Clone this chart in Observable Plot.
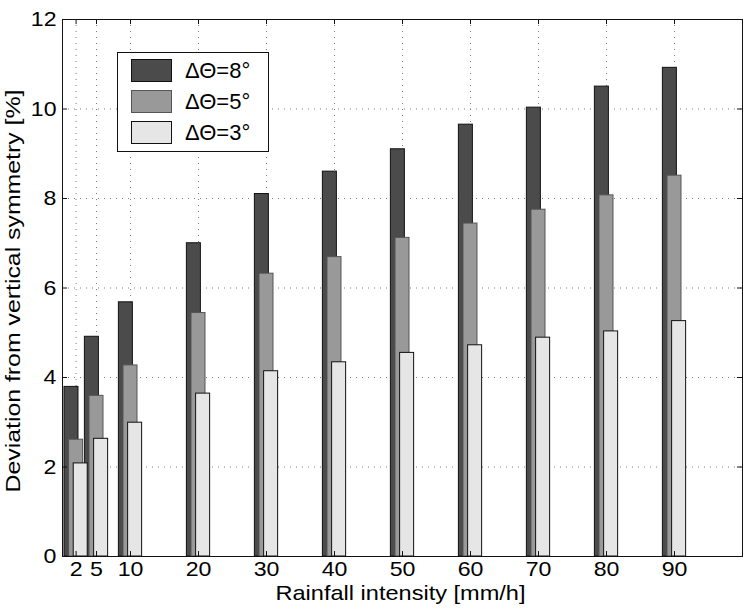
<!DOCTYPE html>
<html>
<head>
<meta charset="utf-8">
<script src="https://cdn.jsdelivr.net/npm/d3@7"></script>
<script src="https://cdn.jsdelivr.net/npm/@observablehq/plot@0.6"></script>
<style>
  html, body { margin: 0; padding: 0; background: #fff; }
  #wrap { position: relative; width: 747px; height: 614px; }
  #legend { position: absolute; left: 117px; top: 52px; width: 150px; height: 98px;
    border: 1px solid #111; background: #fff; font-family: "Liberation Sans", Arial, sans-serif; }
  .sw { position: absolute; left: 13px; width: 41px; height: 23px; border: 1px solid #222; box-sizing: border-box; }
  .lt { position: absolute; left: 67px; font-size: 22px; line-height: 22px; color: #000; white-space: nowrap; }
</style>
</head>
<body>
<div id="wrap"></div>
<script>
// ---- data ----
const rainfall = [2, 5, 10, 20, 30, 40, 50, 60, 70, 80, 90];
const dev8 = [3.79, 4.91, 5.68, 7.0, 8.1, 8.6, 9.1, 9.65, 10.03, 10.5, 10.92];
const dev5 = [2.61, 3.59, 4.27, 5.44, 6.32, 6.69, 7.12, 7.44, 7.75, 8.07, 8.51];
const dev3 = [2.08, 2.63, 2.99, 3.64, 4.14, 4.34, 4.55, 4.72, 4.89, 5.03, 5.26];
const seriesLabels = ["ΔΘ=8°", "ΔΘ=5°", "ΔΘ=3°"];
const xTicks = [2, 5, 10, 20, 30, 40, 50, 60, 70, 80, 90];
const yTicks = [0, 2, 4, 6, 8, 10, 12];
const xLabel = "Rainfall intensity [mm/h]";
const yLabel = "Deviation from vertical symmetry [%]";

// ---- styling ----
const fills = ["#4b4b4b", "#999999", "#e6e6e6"];
const strokes = ["#111", "#555", "#111"];
const W = 747, H = 614, mL = 62, mR = 5, mT = 19, mB = 58;
const fw = W - mL - mR, fh = H - mT - mB;
const barW = 2.06, off = 0.68;   // in x units
const font = "'Liberation Sans', Arial, Helvetica, sans-serif";

const allSeries = [dev8, dev5, dev3];
const rows = allSeries.map((vals, s) => rainfall.map((r, i) => ({rain: r, value: vals[i], s})));

const barMarks = rows.map((data, s) => Plot.rectY(data, {
  x1: d => d.rain + (d.s - 1) * off - barW / 2,
  x2: d => d.rain + (d.s - 1) * off + barW / 2,
  y1: 0,
  y2: "value",
  fill: fills[s],
  stroke: strokes[s],
  strokeWidth: 1
}));

const gridStyle = {stroke: "#444", strokeOpacity: 0.7, strokeDasharray: "1,5", strokeWidth: 1};
const tickStyle = {stroke: "#111", strokeWidth: 1};

const chart = Plot.plot({
  width: W, height: H,
  marginLeft: mL, marginRight: mR, marginTop: mT, marginBottom: mB,
  x: {domain: [0, 100], axis: null},
  y: {domain: [0, 12], axis: null},
  style: {fontFamily: font, background: "#fff", color: "#000"},
  marks: [
    Plot.ruleX(xTicks, {x: d => d, ...gridStyle}),
    Plot.ruleY(yTicks.slice(1, -1), {y: d => d, ...gridStyle}),
    ...barMarks,
    // inward ticks on all four sides
    Plot.ruleX(xTicks, {x: d => d, insetTop: fh - 5, ...tickStyle}),
    Plot.ruleX(xTicks, {x: d => d, insetBottom: fh - 5, ...tickStyle}),
    Plot.ruleY(yTicks, {y: d => d, insetRight: fw - 5, ...tickStyle}),
    Plot.ruleY(yTicks, {y: d => d, insetLeft: fw - 5, ...tickStyle}),
    Plot.frame({stroke: "#111", strokeWidth: 1}),
    Plot.text(xTicks, {x: d => d, frameAnchor: "bottom", dy: 19, text: d => String(d), fontSize: 21, fill: "#000"}),
    Plot.text(yTicks, {y: d => d, frameAnchor: "left", dx: -6, textAnchor: "end", text: d => String(d), fontSize: 21, fill: "#000"}),
    Plot.text([xLabel], {frameAnchor: "bottom", dx: -2, dy: 43, text: d => d, fontSize: 21, fill: "#000"}),
    Plot.text([yLabel], {frameAnchor: "left", dx: -49, dy: 3, rotate: -90, text: d => d, fontSize: 21, fill: "#000"})
  ]
});

const wrap = document.getElementById("wrap");
wrap.appendChild(chart);

// widen glyphs slightly to match the reference's wider lettering
chart.querySelectorAll("text").forEach(t => {
  const s = t.textContent;
  const len = t.getComputedTextLength();
  if (s === yLabel) {
    const L = 403;
    t.setAttribute("text-anchor", "start");
    t.setAttribute("x", (-L / 2).toFixed(1));
    t.setAttribute("textLength", L);
    t.setAttribute("lengthAdjust", "spacingAndGlyphs");
    return;
  }
  const target = s === xLabel ? 250 : len * 1.1;
  t.setAttribute("textLength", target.toFixed(1));
  t.setAttribute("lengthAdjust", "spacingAndGlyphs");
});

// legend
const legend = document.createElement("div");
legend.id = "legend";
seriesLabels.forEach((lab, i) => {
  const sw = document.createElement("div");
  sw.className = "sw";
  sw.style.top = (6 + i * 31) + "px";
  sw.style.background = fills[i];
  sw.style.borderColor = strokes[i];
  legend.appendChild(sw);
  const tx = document.createElement("div");
  tx.className = "lt";
  tx.style.top = (7 + i * 31) + "px";
  tx.textContent = lab;
  legend.appendChild(tx);
});
wrap.appendChild(legend);
</script>
</body>
</html>
